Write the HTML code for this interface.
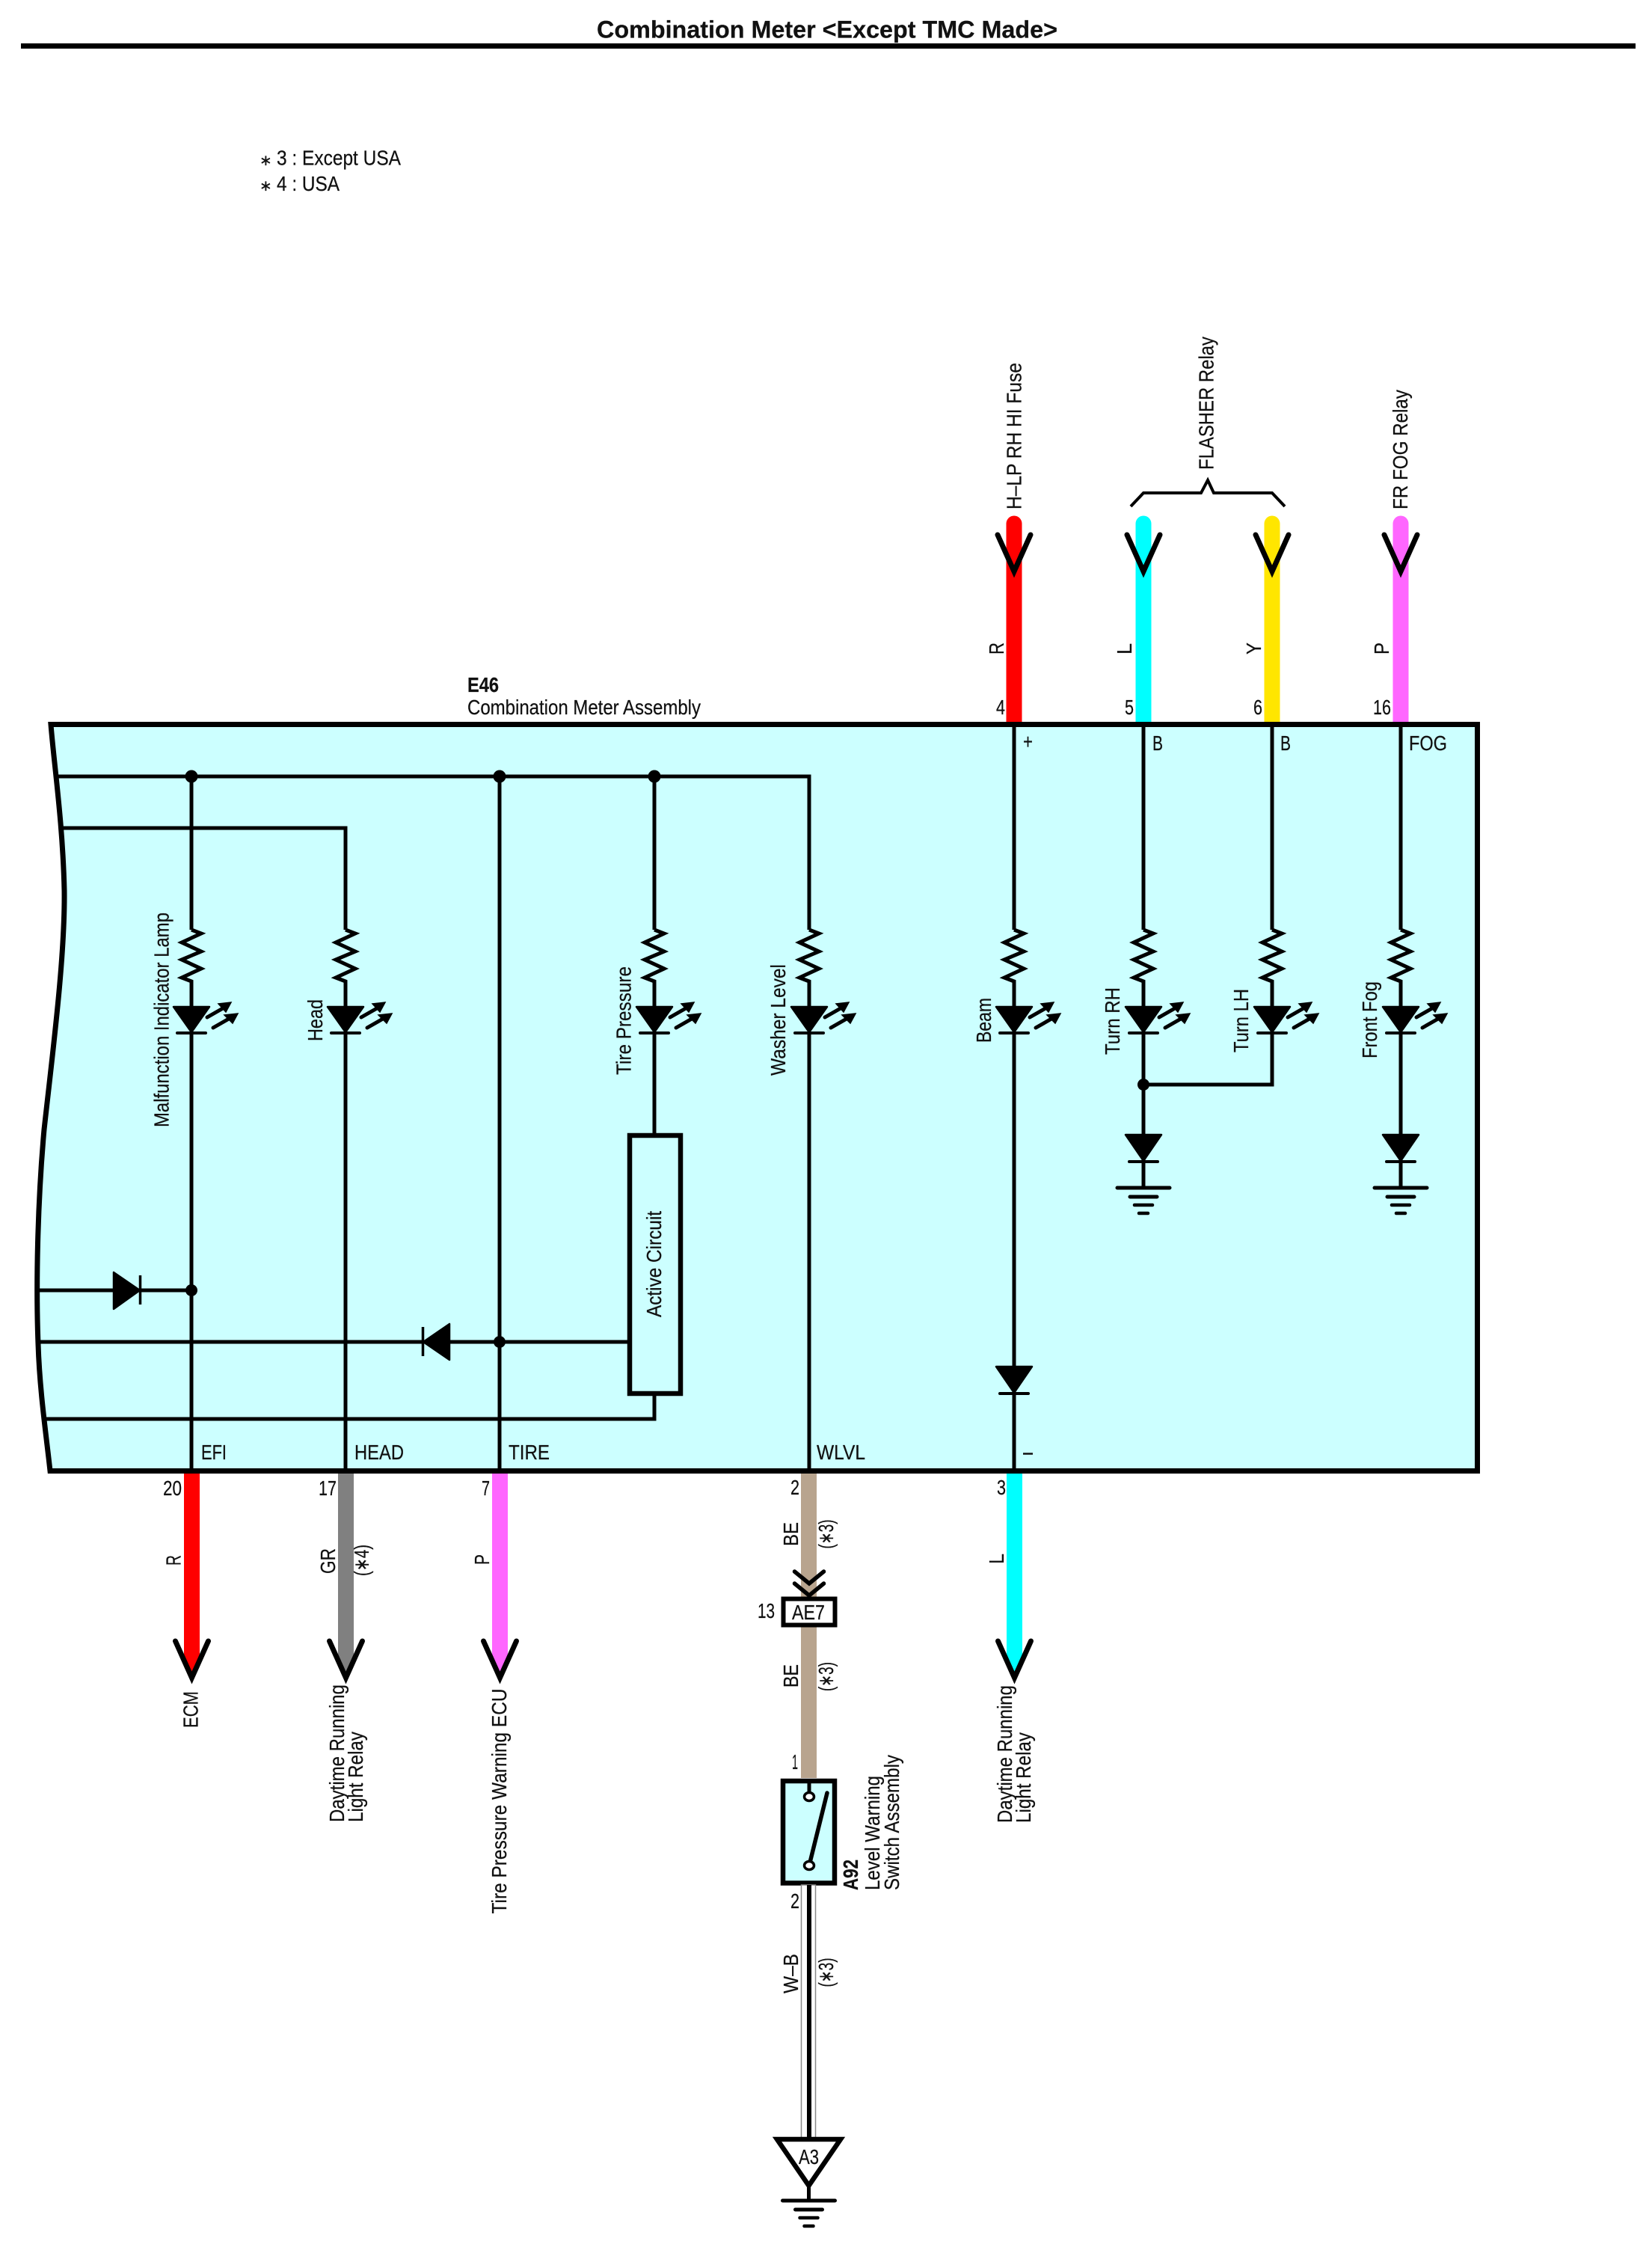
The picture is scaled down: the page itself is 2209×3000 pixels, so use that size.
<!DOCTYPE html>
<html><head><meta charset="utf-8"><title>Combination Meter</title>
<style>html,body{margin:0;padding:0;background:#fff}svg{display:block}
text{font-family:"Liberation Sans","DejaVu Sans",sans-serif;font-size:28px;fill:#111;stroke:#111;stroke-width:.25}
.w{stroke:#000;stroke-width:5;fill:none}
.b{font-weight:bold}
</style></head><body>
<svg xmlns="http://www.w3.org/2000/svg" width="2209" height="3000" viewBox="0 0 2209 3000">
<defs>
<g id="led">
<polyline class="w" points="0,1243 13,1248 -13,1260 13,1272 -13,1283 13,1295 -13,1307 0,1312 0,1346" stroke-linejoin="miter"/>
<polygon points="-24,1346 24,1346 0,1380" fill="#000" stroke="#000" stroke-width="2.5" stroke-linejoin="round"/>
<line x1="-19" y1="1381" x2="19" y2="1381" stroke="#000" stroke-width="4" stroke-linecap="round"/>
<line x1="21" y1="1360" x2="42" y2="1348" stroke="#000" stroke-width="5" stroke-linecap="round"/>
<polygon points="53,1340 46,1353 36,1342" fill="#000" stroke="#000" stroke-width="1.5"/>
<line x1="29" y1="1374" x2="50" y2="1362" stroke="#000" stroke-width="5" stroke-linecap="round"/>
<polygon points="62,1355 55,1368 44,1357" fill="#000" stroke="#000" stroke-width="1.5"/>
</g>
<g id="gnd" stroke="#000" stroke-linecap="round">
<line x1="-35" y1="0" x2="35" y2="0" stroke-width="5"/>
<line x1="-18" y1="12" x2="18" y2="12" stroke-width="5"/>
<line x1="-12" y1="23" x2="12" y2="23" stroke-width="4.5"/>
<line x1="-6" y1="34" x2="6" y2="34" stroke-width="4.5"/>
</g>
<g id="diode">
<polygon points="-24,0 24,0 0,35" fill="#000" stroke="#000" stroke-width="2.5" stroke-linejoin="round"/>
<line x1="-19" y1="36" x2="19" y2="36" stroke="#000" stroke-width="4" stroke-linecap="round"/>
</g>
<polyline id="vee" points="-22,0 0,49 22,0" fill="none" stroke="#000" stroke-width="7" stroke-linecap="round" stroke-linejoin="miter"/>
</defs>

<!-- title -->
<text x="798" y="50.5" class="b" style="font-size:32px" textLength="616" lengthAdjust="spacingAndGlyphs">Combination Meter &lt;Except TMC Made&gt;</text>
<rect x="28" y="58" width="2153" height="7" fill="#000"/>
<rect x="2181" y="58" width="6" height="7" fill="#000"/>

<!-- legend -->
<text x="347" y="221" style="font-size:20px">∗</text>
<text x="370" y="220.5" textLength="166" lengthAdjust="spacingAndGlyphs">3 : Except USA</text>
<text x="347" y="255" style="font-size:20px">∗</text>
<text x="370" y="255" textLength="84" lengthAdjust="spacingAndGlyphs">4 : USA</text>

<text x="625" y="925" class="b" textLength="42" lengthAdjust="spacingAndGlyphs">E46</text>
<text x="625" y="955" textLength="312" lengthAdjust="spacingAndGlyphs">Combination Meter Assembly</text>

<!-- external wires top -->
<g fill="none" stroke-width="21">
<path d="M1356,700V966" stroke="#ff0000"/>
<path d="M1529,700V966" stroke="#00ffff"/>
<path d="M1701,700V966" stroke="#ffe600"/>
<path d="M1873,700V966" stroke="#ff66ff"/>
</g>
<g>
<circle cx="1356" cy="700" r="10.5" fill="#ff0000"/>
<circle cx="1529" cy="700" r="10.5" fill="#00ffff"/>
<circle cx="1701" cy="700" r="10.5" fill="#ffe600"/>
<circle cx="1873" cy="700" r="10.5" fill="#ff66ff"/>
</g>
<use href="#vee" x="1356" y="715"/><use href="#vee" x="1529" y="715"/><use href="#vee" x="1701" y="715"/><use href="#vee" x="1873" y="715"/>
<polyline points="1512,677 1529,659 1606,659 1615,642 1623,659 1701,659 1718,677" fill="none" stroke="#000" stroke-width="4"/>

<!-- main box -->
<path d="M68,968.5 C72,1020 84,1100 86,1191 C87,1280 70,1410 59,1510 C50,1610 48,1720 51,1797 C53,1860 62,1920 67,1966.5 L1975.5,1966.5 L1975.5,968.5 Z" fill="#ccffff"/>

<!-- internal wiring -->
<g class="w">
<path d="M74,1038H1082V1243"/>
<path d="M83,1107H462V1243"/>
<path d="M256,1038V1243M256,1381V1966"/>
<path d="M462,1381V1966"/>
<path d="M668,1038V1966"/>
<path d="M875,1038V1243M875,1381V1518"/>
<path d="M1082,1381V1966"/>
<path d="M1356,968V1243M1356,1381V1966"/>
<path d="M1529,968V1243M1529,1381V1588"/>
<path d="M1701,968V1243M1701,1381V1450H1529"/>
<path d="M1873,968V1243M1873,1381V1588"/>
<path d="M51,1725H256"/>
<path d="M51,1794H842"/>
<path d="M875,1863V1897H60"/>
</g>
<use href="#led" x="256"/><use href="#led" x="462"/><use href="#led" x="875"/><use href="#led" x="1082"/>
<use href="#led" x="1356"/><use href="#led" x="1529"/><use href="#led" x="1701"/><use href="#led" x="1873"/>
<use href="#diode" x="1356" y="1827"/>
<use href="#diode" x="1529" y="1517"/><use href="#diode" x="1873" y="1517"/>
<use href="#gnd" x="1529" y="1588"/><use href="#gnd" x="1873" y="1588"/>
<g fill="#000">
<circle cx="256" cy="1038" r="8.5"/><circle cx="668" cy="1038" r="8.5"/><circle cx="875" cy="1038" r="8.5"/>
<circle cx="256" cy="1725" r="8"/><circle cx="668" cy="1794" r="8"/><circle cx="1529" cy="1450" r="8"/>
<polygon points="152,1701 152,1750 187,1725" stroke="#000" stroke-width="2.5" stroke-linejoin="round"/>
<polygon points="601,1770 601,1818 566,1794" stroke="#000" stroke-width="2.5" stroke-linejoin="round"/>
</g>
<line x1="187.5" y1="1705" x2="187.5" y2="1744" stroke="#000" stroke-width="3.5"/>
<line x1="565.5" y1="1774" x2="565.5" y2="1813" stroke="#000" stroke-width="3.5"/>
<rect x="842" y="1518" width="68" height="345" fill="#ccffff" stroke="#000" stroke-width="6.5"/>

<path d="M68,968.5 C72,1020 84,1100 86,1191 C87,1280 70,1410 59,1510 C50,1610 48,1720 51,1797 C53,1860 62,1920 67,1966.5 L1975.5,1966.5 L1975.5,968.5 Z" fill="none" stroke="#000" stroke-width="7" stroke-linejoin="miter"/>

<!-- internal labels -->
<text transform="translate(884,1761) rotate(-90)" textLength="142" lengthAdjust="spacingAndGlyphs">Active Circuit</text>
<text transform="translate(225.5,1507) rotate(-90)" textLength="287" lengthAdjust="spacingAndGlyphs">Malfunction Indicator Lamp</text>
<text transform="translate(431,1392) rotate(-90)" textLength="56" lengthAdjust="spacingAndGlyphs">Head</text>
<text transform="translate(843.5,1437) rotate(-90)" textLength="145" lengthAdjust="spacingAndGlyphs">Tire Pressure</text>
<text transform="translate(1050,1438) rotate(-90)" textLength="149" lengthAdjust="spacingAndGlyphs">Washer Level</text>
<text transform="translate(1325,1394) rotate(-90)" textLength="60" lengthAdjust="spacingAndGlyphs">Beam</text>
<text transform="translate(1497,1410) rotate(-90)" textLength="90" lengthAdjust="spacingAndGlyphs">Turn RH</text>
<text transform="translate(1669,1407) rotate(-90)" textLength="85" lengthAdjust="spacingAndGlyphs">Turn LH</text>
<text transform="translate(1841,1415) rotate(-90)" textLength="103" lengthAdjust="spacingAndGlyphs">Front Fog</text>

<text x="269" y="1951" textLength="34" lengthAdjust="spacingAndGlyphs">EFI</text>
<text x="474" y="1951" textLength="66" lengthAdjust="spacingAndGlyphs">HEAD</text>
<text x="680" y="1951" textLength="55" lengthAdjust="spacingAndGlyphs">TIRE</text>
<text x="1092" y="1951" textLength="65" lengthAdjust="spacingAndGlyphs">WLVL</text>
<line x1="1368" y1="1943.5" x2="1381" y2="1943.5" stroke="#111" stroke-width="2.5"/>
<text x="1368" y="1001" textLength="13" lengthAdjust="spacingAndGlyphs">+</text>
<text x="1541" y="1003" textLength="14" lengthAdjust="spacingAndGlyphs">B</text>
<text x="1712" y="1003" textLength="14" lengthAdjust="spacingAndGlyphs">B</text>
<text x="1884" y="1003" textLength="51" lengthAdjust="spacingAndGlyphs">FOG</text>

<!-- top labels -->
<text x="1332" y="955" textLength="12" lengthAdjust="spacingAndGlyphs">4</text>
<text x="1504" y="955" textLength="12" lengthAdjust="spacingAndGlyphs">5</text>
<text x="1676" y="955" textLength="12" lengthAdjust="spacingAndGlyphs">6</text>
<text x="1836" y="955" textLength="24" lengthAdjust="spacingAndGlyphs">16</text>
<text transform="translate(1342,875) rotate(-90)" textLength="16" lengthAdjust="spacingAndGlyphs">R</text>
<text transform="translate(1513,875) rotate(-90)" textLength="15" lengthAdjust="spacingAndGlyphs">L</text>
<text transform="translate(1686,875) rotate(-90)" textLength="16" lengthAdjust="spacingAndGlyphs">Y</text>
<text transform="translate(1857,875) rotate(-90)" textLength="16" lengthAdjust="spacingAndGlyphs">P</text>
<text transform="translate(1365.5,681) rotate(-90)" textLength="196" lengthAdjust="spacingAndGlyphs">H–LP RH HI Fuse</text>
<text transform="translate(1622.5,628) rotate(-90)" textLength="178" lengthAdjust="spacingAndGlyphs">FLASHER Relay</text>
<text transform="translate(1882,681) rotate(-90)" textLength="160" lengthAdjust="spacingAndGlyphs">FR FOG Relay</text>

<!-- bottom wires -->
<polygon points="246,1970 267,1970 267,2215 256.5,2243 246,2215" fill="#ff0000"/>
<polygon points="452,1970 473,1970 473,2215 462.5,2243 452,2215" fill="#808080"/>
<polygon points="658,1970 679,1970 679,2215 668.5,2243 658,2215" fill="#ff66ff"/>
<polygon points="1346,1970 1367,1970 1367,2215 1356.5,2243 1346,2215" fill="#00ffff"/>
<use href="#vee" x="256.5" y="2194"/><use href="#vee" x="462.5" y="2194"/><use href="#vee" x="668.5" y="2194"/><use href="#vee" x="1356.5" y="2194"/>

<text x="218" y="1999" textLength="25" lengthAdjust="spacingAndGlyphs">20</text>
<text x="426" y="1999" textLength="24" lengthAdjust="spacingAndGlyphs">17</text>
<text x="644" y="1999" textLength="11" lengthAdjust="spacingAndGlyphs">7</text>
<text x="1057" y="1998" textLength="12" lengthAdjust="spacingAndGlyphs">2</text>
<text x="1333" y="1998" textLength="12" lengthAdjust="spacingAndGlyphs">3</text>

<text transform="translate(241.5,2093) rotate(-90)" textLength="14" lengthAdjust="spacingAndGlyphs">R</text>
<text transform="translate(448,2104) rotate(-90)" textLength="34" lengthAdjust="spacingAndGlyphs">GR</text>
<text transform="translate(493,2107) rotate(-90)" textLength="42" lengthAdjust="spacingAndGlyphs">(∗4)</text>
<text transform="translate(654,2092) rotate(-90)" textLength="14" lengthAdjust="spacingAndGlyphs">P</text>
<text transform="translate(1342,2091) rotate(-90)" textLength="14" lengthAdjust="spacingAndGlyphs">L</text>

<text transform="translate(264.5,2310) rotate(-90)" textLength="49" lengthAdjust="spacingAndGlyphs">ECM</text>
<text transform="translate(460,2436) rotate(-90)" textLength="184" lengthAdjust="spacingAndGlyphs">Daytime Running</text>
<text transform="translate(485,2436) rotate(-90)" textLength="121" lengthAdjust="spacingAndGlyphs">Light Relay</text>
<text transform="translate(677,2558.5) rotate(-90)" textLength="301" lengthAdjust="spacingAndGlyphs">Tire Pressure Warning ECU</text>
<text transform="translate(1353,2437) rotate(-90)" textLength="184" lengthAdjust="spacingAndGlyphs">Daytime Running</text>
<text transform="translate(1378,2437) rotate(-90)" textLength="121" lengthAdjust="spacingAndGlyphs">Light Relay</text>

<!-- washer level chain -->
<rect x="1071" y="1970" width="21" height="407" fill="#b8a48e"/>
<g fill="none" stroke="#000" stroke-width="5.5" stroke-linecap="round">
<polyline points="1062.5,2101 1082,2117 1101.5,2101"/>
<polyline points="1062.5,2117 1082,2133 1101.5,2117"/>
</g>
<rect x="1047.5" y="2137.5" width="69" height="35" fill="#fff" stroke="#000" stroke-width="6"/>
<text x="1059" y="2165" textLength="44" lengthAdjust="spacingAndGlyphs">AE7</text>
<text x="1013" y="2163" textLength="23" lengthAdjust="spacingAndGlyphs">13</text>
<text transform="translate(1067,2067) rotate(-90)" textLength="32" lengthAdjust="spacingAndGlyphs">BE</text>
<text transform="translate(1067,2256) rotate(-90)" textLength="31" lengthAdjust="spacingAndGlyphs">BE</text>
<text transform="translate(1114,2070.5) rotate(-90)" textLength="39" lengthAdjust="spacingAndGlyphs">(∗3)</text>
<text transform="translate(1114,2261) rotate(-90)" textLength="39" lengthAdjust="spacingAndGlyphs">(∗3)</text>
<text x="1059" y="2365" textLength="8" lengthAdjust="spacingAndGlyphs">1</text>

<rect x="1047" y="2381" width="69" height="136.5" fill="#ccffff" stroke="#000" stroke-width="6.5"/>
<line x1="1082" y1="2381" x2="1082" y2="2402" stroke="#000" stroke-width="5"/>
<line x1="1082" y1="2494" x2="1106" y2="2397" stroke="#000" stroke-width="5.5" stroke-linecap="round"/>
<ellipse cx="1082" cy="2402" rx="6.5" ry="5.5" fill="#fff" stroke="#000" stroke-width="3.5"/>
<ellipse cx="1082" cy="2494" rx="6.5" ry="5.5" fill="#fff" stroke="#000" stroke-width="3.5"/>
<text transform="translate(1147,2527) rotate(-90)" class="b" textLength="41" lengthAdjust="spacingAndGlyphs">A92</text>
<text transform="translate(1176,2527) rotate(-90)" textLength="153" lengthAdjust="spacingAndGlyphs">Level Warning</text>
<text transform="translate(1202,2527) rotate(-90)" textLength="181" lengthAdjust="spacingAndGlyphs">Switch Assembly</text>
<text x="1057" y="2551" textLength="12" lengthAdjust="spacingAndGlyphs">2</text>

<rect x="1071.5" y="2520" width="19" height="340" fill="#fff" stroke="#888" stroke-width="1.5"/>
<rect x="1079" y="2520" width="6" height="340" fill="#000"/>
<text transform="translate(1067,2665) rotate(-90)" textLength="53" lengthAdjust="spacingAndGlyphs">W–B</text>
<text transform="translate(1114,2656.5) rotate(-90)" textLength="39" lengthAdjust="spacingAndGlyphs">(∗3)</text>
<polygon points="1039,2860 1124,2860 1081.5,2922" fill="#fff" stroke="#000" stroke-width="6.5" stroke-linejoin="miter"/>
<text x="1068" y="2893" textLength="27" lengthAdjust="spacingAndGlyphs">A3</text>
<line x1="1081.5" y1="2922" x2="1081.5" y2="2942" stroke="#000" stroke-width="5"/>
<use href="#gnd" x="1081.5" y="2942"/>
</svg>
</body></html>
